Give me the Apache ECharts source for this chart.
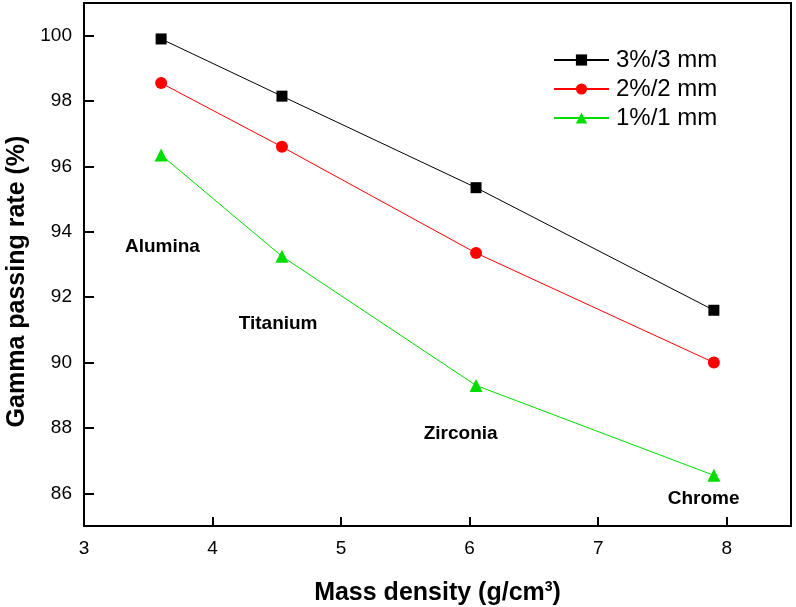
<!DOCTYPE html>
<html>
<head>
<meta charset="utf-8">
<script src="https://cdn.jsdelivr.net/npm/echarts@6/dist/echarts.min.js"></script>
<style>
  html, body { margin: 0; padding: 0; background: #fff; }
  #chart { width: 796px; height: 607px; }
</style>
</head>
<body>
<div id="chart"></div>
<script>
// mass density of each material (g/cm3)
var density = [3.6, 4.54, 6.05, 7.9];
var pass3 = [99.9, 98.15, 95.35, 91.6];
var pass2 = [98.55, 96.6, 93.35, 90.0];
var pass1 = [96.35, 93.25, 89.3, 86.55];
var yTicks = [86, 88, 90, 92, 94, 96, 98, 100];
var materials = ['Alumina', 'Titanium', 'Zirconia', 'Chrome'];
var labelX = [3.61, 4.51, 5.93, 7.82];
var labelY = [93.55, 91.2, 87.83, 85.83];

function pairs(xs, ys) {
    return xs.map(function (x, i) { return [x, ys[i]]; });
}

var myChart = echarts.init(document.getElementById('chart'));
var font = 'Arial, "Liberation Sans", sans-serif';

function lineSeries(name, data, color, symbol, size) {
    return {
        name: name,
        type: 'line',
        data: pairs(density, data),
        symbol: symbol,
        symbolSize: size,
        itemStyle: { color: color },
        lineStyle: { color: color, width: 1 },
        z: 3
    };
}

var option = {
    animation: false,
    backgroundColor: '#fff',
    grid: { left: 84, right: 5, top: 3, bottom: 81, outerBoundsMode: 'none' },
    legend: {
        left: 548,
        top: 43,
        orient: 'vertical',
        itemWidth: 55,
        itemHeight: 14,
        itemGap: 5,
        textStyle: { fontFamily: font, fontSize: 24, color: '#000', padding: [0, 0, 0, 2] },
        data: ['3%/3 mm', '2%/2 mm', '1%/1 mm']
    },
    xAxis: {
        type: 'value',
        min: 3, max: 8.5, interval: 1,
        name: 'Mass density (g/cm{sup|3})',
        nameLocation: 'middle',
        nameGap: 54,
        nameTextStyle: {
            fontFamily: font, fontSize: 25, fontWeight: 'bold', color: '#000',
            rich: { sup: { fontSize: 14, fontWeight: 'bold', verticalAlign: 'top', padding: [0, 0, 12, 0] } }
        },
        axisLine: { onZero: false, lineStyle: { color: '#000', width: 2 } },
        axisTick: { inside: true, length: 9, lineStyle: { color: '#000', width: 2 } },
        axisLabel: {
            fontFamily: font, fontSize: 19, color: '#000', margin: 13,
            showMaxLabel: false
        },
        splitLine: { show: false }
    },
    yAxis: {
        type: 'value',
        min: 85, max: 101,
        name: 'Gamma passing rate (%)',
        nameLocation: 'middle',
        nameGap: 53,
        nameTextStyle: {
            fontFamily: font, fontSize: 25, fontWeight: 'bold', color: '#000',
            padding: [0, 34, 0, 0]
        },
        axisLine: { onZero: false, lineStyle: { color: '#000', width: 2 } },
        axisTick: { inside: true, length: 10, customValues: yTicks, lineStyle: { color: '#000', width: 2 } },
        axisLabel: {
            fontFamily: font, fontSize: 19, color: '#000', margin: 12,
            customValues: yTicks
        },
        splitLine: { show: false }
    },
    series: [
        lineSeries('3%/3 mm', pass3, '#000000', 'rect', 11),
        lineSeries('2%/2 mm', pass2, '#ff0000', 'circle', 12),
        lineSeries('1%/1 mm', pass1, '#00dd00', 'triangle', 13),
        {
            type: 'scatter',
            data: pairs(labelX, labelY),
            symbolSize: 1,
            itemStyle: { color: 'rgba(0,0,0,0)' },
            silent: true,
            z: 5,
            label: {
                show: true,
                position: 'inside',
                fontFamily: font, fontSize: 19, fontWeight: 'bold', color: '#000',
                opacity: 1,
                textBorderWidth: 0,
                formatter: function (p) { return materials[p.dataIndex]; }
            }
        }
    ],
    graphic: [
        // top and right frame lines
        { type: 'rect', shape: { x: 84, y: 3, width: 707, height: 523 },
          style: { fill: 'none', stroke: '#000', lineWidth: 2 }, z: 1 }
    ]
};
myChart.setOption(option);
</script>
</body>
</html>
